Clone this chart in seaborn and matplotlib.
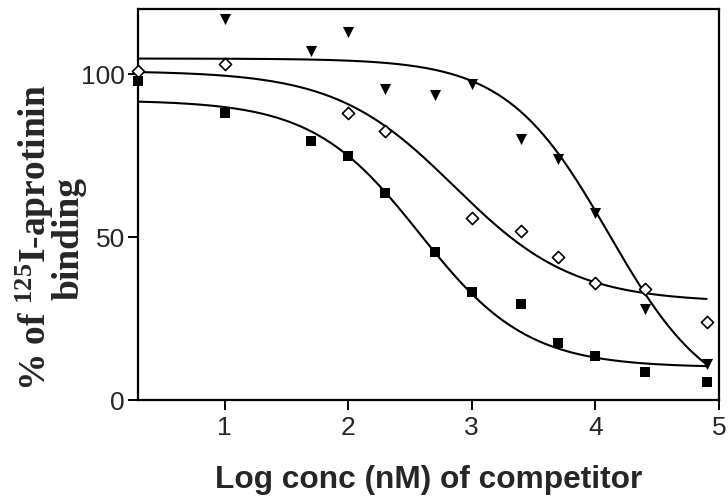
import numpy as np
import pandas as pd
import matplotlib
matplotlib.use("Agg")
import matplotlib.pyplot as plt
import seaborn as sns

# --- DATA ---
x_square = [0.3, 1.0, 1.7, 2.0, 2.3, 2.7, 3.0, 3.4, 3.7, 4.0, 4.4, 4.9]
y_square = [98, 88, 79.5, 75, 63.5, 45.5, 33, 29.5, 17.5, 13.5, 8.5, 5.5]

x_diamond = [0.3, 1.0, 2.0, 2.3, 3.0, 3.4, 3.7, 4.0, 4.4, 4.9]
y_diamond = [101, 103, 88, 82.5, 56, 52, 44, 36, 34, 24]

x_triangle = [1.0, 1.7, 2.0, 2.3, 2.7, 3.0, 3.4, 3.7, 4.0, 4.4, 4.9]
y_triangle = [117, 107, 113, 95.5, 93.5, 97, 80, 74, 57.5, 28, 11]

# sigmoid fit parameters: top, bottom, logIC50, hill slope
fit_square = [92, 10, 2.58, 1.0]
fit_diamond = [101, 30, 2.86, 0.9]
fit_triangle = [104.8, -3, 4.11, 1.05]
fit_range = [0.3, 4.9]

x_ticks = [1, 2, 3, 4, 5]
y_ticks = [0, 50, 100]


def sigmoid(x, top, bottom, logic50, hill):
    return bottom + (top - bottom) / (1 + 10 ** ((x - logic50) * hill))


sns.set_style("ticks")
plt.rcParams['font.family'] = ['Liberation Sans', 'DejaVu Sans']
plt.rcParams['mathtext.fontset'] = 'custom'
plt.rcParams['mathtext.rm'] = 'Liberation Serif:bold'
plt.rcParams['mathtext.it'] = 'Liberation Serif:bold'
plt.rcParams['mathtext.bf'] = 'Liberation Serif:bold'

fig = plt.figure(figsize=(7.28, 5.01), dpi=100)
ax = fig.add_axes([138 / 728, 101 / 501, 581 / 728, 391 / 501])

# fitted curves
xs = np.linspace(fit_range[0], fit_range[1], 300)
for p in [fit_square, fit_diamond, fit_triangle]:
    sns.lineplot(x=xs, y=sigmoid(xs, *p), color='black', linewidth=1.5, ax=ax)

# data points
sns.scatterplot(x=x_square, y=y_square, marker='s', s=50, color='black',
                edgecolor='black', linewidth=0, ax=ax, clip_on=False, zorder=5)
sns.scatterplot(x=x_triangle, y=y_triangle, marker='v', s=64, color='black',
                edgecolor='black', linewidth=0, ax=ax, clip_on=False, zorder=5)
sns.scatterplot(x=x_diamond, y=y_diamond, marker='D', s=38, facecolor='white',
                edgecolor='black', linewidth=1.2, ax=ax, clip_on=False, zorder=6)

ax.set_xlim(0.3, 5)
ax.set_ylim(0, 120)
ax.set_xticks(x_ticks)
ax.set_yticks(y_ticks)
ax.tick_params(axis='both', direction='out', length=7.5, width=1.4,
               labelsize=19, color='black')
ax.tick_params(axis='x', pad=4)
ax.tick_params(axis='y', pad=2)

for sp in ax.spines.values():
    sp.set_visible(True)
    sp.set_linewidth(1.6)
    sp.set_color('black')

ax.set_xlabel('Log conc (nM) of competitor', fontsize=22.8, fontweight='bold',
              va='center')
ax.xaxis.set_label_coords(0.5, -0.205)

ax.set_ylabel('% of $^{125}$I-aprotinin\nbinding', fontsize=27,
              fontweight='bold', family=['Liberation Serif', 'DejaVu Serif'],
              va='center', ha='center', linespacing=0.85)
ax.yaxis.set_label_coords(-0.151, 0.414)

fig.savefig('out.png', dpi=100)
